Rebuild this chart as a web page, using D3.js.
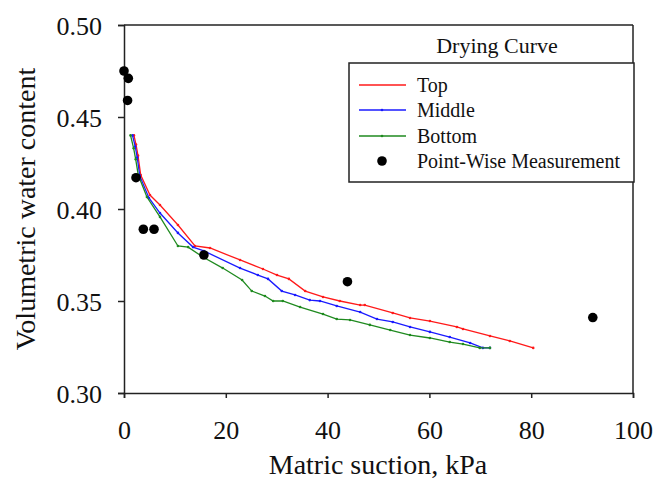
<!DOCTYPE html>
<html>
<head>
<meta charset="utf-8">
<script src="https://cdn.jsdelivr.net/npm/d3@7"></script>
<style>
  html, body { margin: 0; padding: 0; background: #fff; }
  svg { display: block; }
  text { font-family: "Liberation Serif", "Times New Roman", serif; fill: #111; }
</style>
</head>
<body>
<svg id="chart" width="658" height="486"></svg>
<script>
// ---- Data ----
const topX =    [1.96, 2.36, 2.75, 3.28, 5.1, 7.07, 10.6, 13.95, 16.9, 22.8, 27.3, 30.06, 32.4, 35.6, 39.1, 42.4, 46.4, 47.3, 52.8, 56.2, 60.1, 65.4, 66.6, 71.9, 75.8, 80.4];
const topY =    [0.440, 0.435, 0.429, 0.4185, 0.4076, 0.4022, 0.3913, 0.3799, 0.3788, 0.3723, 0.3674, 0.3641, 0.3620, 0.3554, 0.3522, 0.3500, 0.3478, 0.3478, 0.3435, 0.3408, 0.3391, 0.3359, 0.3348, 0.3310, 0.3283, 0.3245];
const middleX = [1.67, 2.2, 2.6, 3.1, 4.9, 7.07, 10.6, 13.56, 15.7, 22.8, 26.3, 28.3, 31.0, 33.6, 36.5, 38.5, 41.8, 46.4, 49.7, 52.8, 56.2, 60.1, 64.0, 68.0, 70.5, 71.9];
const middleY = [0.440, 0.434, 0.428, 0.418, 0.4060, 0.3978, 0.3870, 0.3793, 0.3772, 0.3679, 0.3641, 0.3620, 0.3554, 0.3533, 0.3505, 0.3500, 0.3473, 0.3440, 0.3402, 0.3386, 0.3359, 0.3332, 0.3304, 0.3272, 0.3245, 0.3245];
const bottomX = [1.28, 1.9, 2.3, 2.8, 4.5, 7.07, 10.6, 12.6, 15.5, 19.4, 23.2, 25.1, 27.7, 29.3, 31.2, 34.6, 39.1, 41.8, 44.4, 48.3, 52.3, 56.2, 60.1, 64.0, 66.6, 69.9, 71.9];
const bottomY = [0.440, 0.433, 0.427, 0.4185, 0.4065, 0.3957, 0.3799, 0.3793, 0.3739, 0.3679, 0.3614, 0.3554, 0.3527, 0.3500, 0.3500, 0.3467, 0.3429, 0.3402, 0.3397, 0.3370, 0.3342, 0.3315, 0.3299, 0.3277, 0.3266, 0.3245, 0.3245];
const pointX =  [0.0, 0.85, 0.7, 2.36, 3.8, 5.9, 15.7, 43.9, 92.1];
const pointY =  [0.475, 0.471, 0.459, 0.417, 0.389, 0.389, 0.375, 0.3605, 0.341];

const xTicks = [0, 20, 40, 60, 80, 100];
const yTicks = [0.30, 0.35, 0.40, 0.45, 0.50];
const seriesNames = ["Top", "Middle", "Bottom"];
const legendPointLabel = "Point-Wise Measurement";
const legendTitle = "Drying Curve";
const xTitle = "Matric suction, kPa";
const yTitle = "Volumetric water content";

// ---- Layout ----
const W = 658, H = 486;
const margin = { left: 124, right: 25, top: 25, bottom: 93 };
const svg = d3.select("#chart");
const x = d3.scaleLinear().domain([0, 100]).range([margin.left, W - margin.right]);
const y = d3.scaleLinear().domain([0.30, 0.50]).range([H - margin.bottom, margin.top]);

const axisColor = "#222";
const colors = ["#ff1a1a", "#1a1aff", "#1f8a1f"];
const series = [
  { name: seriesNames[0], xs: topX, ys: topY, color: colors[0] },
  { name: seriesNames[1], xs: middleX, ys: middleY, color: colors[1] },
  { name: seriesNames[2], xs: bottomX, ys: bottomY, color: colors[2] }
];

// frame top & right
svg.append("line").attr("x1", x(0)).attr("x2", x(100)).attr("y1", y(0.5)).attr("y2", y(0.5))
  .attr("stroke", axisColor).attr("stroke-width", 1.5);
svg.append("line").attr("x1", x(100)).attr("x2", x(100)).attr("y1", y(0.5)).attr("y2", y(0.3))
  .attr("stroke", axisColor).attr("stroke-width", 1.5);

// axes
const xAxis = svg.append("g").attr("transform", `translate(0,${y(0.3)})`)
  .call(d3.axisBottom(x).tickValues(xTicks).tickSize(5).tickPadding(23).tickFormat(d3.format("d")));
const yAxis = svg.append("g").attr("transform", `translate(${x(0)},0)`)
  .call(d3.axisLeft(y).tickValues(yTicks).tickSize(6).tickPadding(16).tickFormat(d3.format(".2f")));
[xAxis, yAxis].forEach(g => {
  g.select(".domain").attr("stroke", axisColor).attr("stroke-width", 1.5);
  g.selectAll(".tick line").attr("stroke", axisColor).attr("stroke-width", 1.5);
  g.selectAll(".tick text").attr("font-family", "Liberation Serif, Times New Roman, serif")
    .attr("font-size", 26).attr("fill", "#111");
});
xAxis.selectAll(".tick text").attr("dy", "0.71em");
yAxis.selectAll(".tick text").attr("dy", "0.36em");

// axis titles
svg.append("text").attr("x", 378).attr("y", 474).attr("text-anchor", "middle")
  .attr("font-size", 28).text(xTitle);
svg.append("text").attr("transform", `translate(35,209) rotate(-90)`).attr("text-anchor", "middle")
  .attr("font-size", 28).text(yTitle);

// series lines
const line = d3.line().x(d => x(d[0])).y(d => y(d[1]));
series.forEach(s => {
  const pts = s.xs.map((v, i) => [v, s.ys[i]]);
  svg.append("path").datum(pts).attr("d", line).attr("fill", "none")
    .attr("stroke", s.color).attr("stroke-width", 1.3);
  svg.append("g").selectAll("circle").data(pts).join("circle")
    .attr("cx", d => x(d[0])).attr("cy", d => y(d[1])).attr("r", 1.3).attr("fill", s.color);
});

// measurement points
svg.append("g").selectAll("circle").data(pointX.map((v, i) => [v, pointY[i]])).join("circle")
  .attr("cx", d => x(d[0])).attr("cy", d => y(d[1])).attr("r", 4.8).attr("fill", "#000");

// legend
svg.append("text").attr("x", 497).attr("y", 53).attr("text-anchor", "middle")
  .attr("font-size", 22).text(legendTitle);
svg.append("rect").attr("x", 349).attr("y", 63).attr("width", 285).attr("height", 119)
  .attr("fill", "#fff").attr("stroke", axisColor).attr("stroke-width", 1.5);
const legY = [85, 110, 136, 161];
series.forEach((s, i) => {
  svg.append("line").attr("x1", 359).attr("x2", 406).attr("y1", legY[i]).attr("y2", legY[i])
    .attr("stroke", s.color).attr("stroke-width", 1.3);
  if (i > 0) svg.append("circle").attr("cx", 382).attr("cy", legY[i]).attr("r", 1.3).attr("fill", s.color);
  svg.append("text").attr("x", 417).attr("y", legY[i]).attr("dy", "0.33em")
    .attr("font-size", 20).text(s.name);
});
svg.append("circle").attr("cx", 382).attr("cy", legY[3]).attr("r", 4.8).attr("fill", "#000");
svg.append("text").attr("x", 417).attr("y", legY[3]).attr("dy", "0.33em")
  .attr("font-size", 20).text(legendPointLabel);
</script>
</body>
</html>
